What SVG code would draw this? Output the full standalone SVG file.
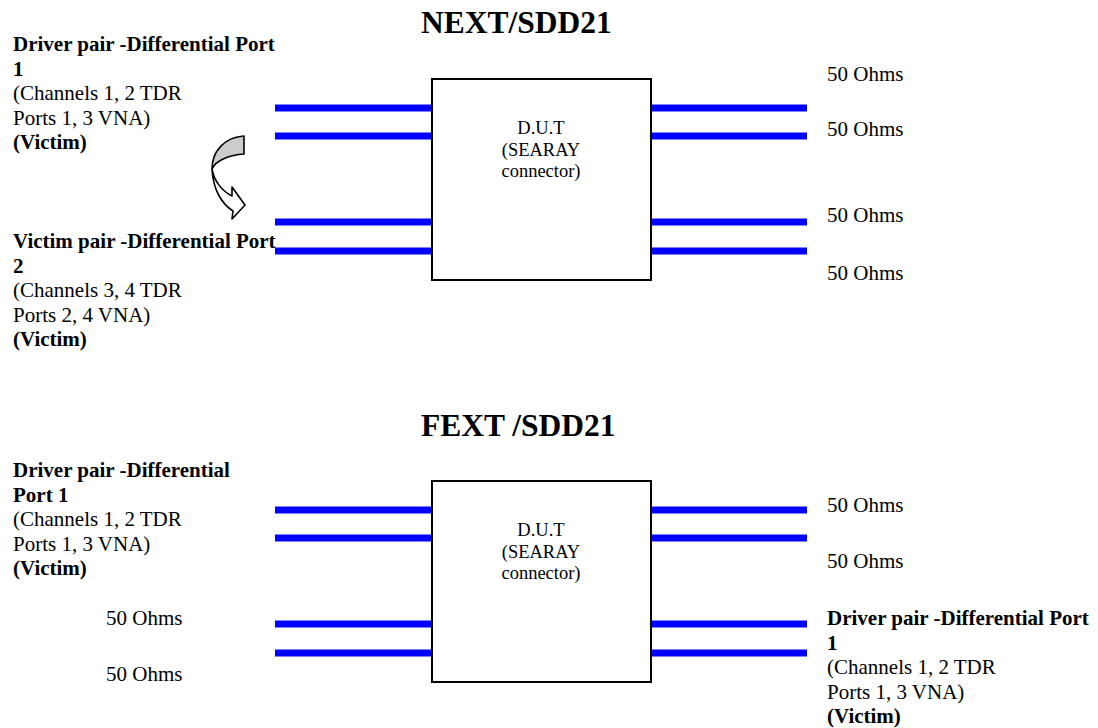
<svg xmlns="http://www.w3.org/2000/svg" width="1098" height="728" viewBox="0 0 1098 728">
<style>
.t{font-family:"Liberation Serif","Times New Roman",serif;font-size:21px;fill:#000}
.b{font-weight:bold}
.title{font-family:"Liberation Serif","Times New Roman",serif;font-size:31.5px;font-weight:bold;fill:#000}
.dut{font-family:"Liberation Serif","Times New Roman",serif;font-size:18.5px;fill:#000;text-anchor:middle}
.box{fill:#fff;stroke:#000;stroke-width:2}
.wire{stroke:#0000ff;stroke-width:7;fill:none}
</style>
<rect width="1098" height="728" fill="#fff"/>

<g id="title-next"><text class="title" x="421" y="33">NEXT/SDD21</text></g>
<g id="title-fext"><text class="title" x="421" y="436">FEXT /SDD21</text></g>

<g id="connectors">
  <line class="wire" x1="275" y1="108" x2="432" y2="108"/>
  <line class="wire" x1="275" y1="136" x2="432" y2="136"/>
  <line class="wire" x1="275" y1="222" x2="432" y2="222"/>
  <line class="wire" x1="275" y1="251" x2="432" y2="251"/>
  <line class="wire" x1="650" y1="108" x2="807" y2="108"/>
  <line class="wire" x1="650" y1="136" x2="807" y2="136"/>
  <line class="wire" x1="650" y1="222" x2="807" y2="222"/>
  <line class="wire" x1="650" y1="251" x2="807" y2="251"/>
  <line class="wire" x1="275" y1="510" x2="432" y2="510"/>
  <line class="wire" x1="275" y1="538" x2="432" y2="538"/>
  <line class="wire" x1="275" y1="624" x2="432" y2="624"/>
  <line class="wire" x1="275" y1="653" x2="432" y2="653"/>
  <line class="wire" x1="650" y1="510" x2="807" y2="510"/>
  <line class="wire" x1="650" y1="538" x2="807" y2="538"/>
  <line class="wire" x1="650" y1="624" x2="807" y2="624"/>
  <line class="wire" x1="650" y1="653" x2="807" y2="653"/>
</g>

<g id="dut-next">
  <rect class="box" x="432" y="79" width="219" height="201"/>
  <text class="dut" x="541" y="134">D.U.T</text>
  <text class="dut" x="541" y="155.5">(SEARAY</text>
  <text class="dut" x="541" y="177">connector)</text>
</g>
<g id="dut-fext">
  <rect class="box" x="432" y="481" width="219" height="201"/>
  <text class="dut" x="541" y="536">D.U.T</text>
  <text class="dut" x="541" y="557.5">(SEARAY</text>
  <text class="dut" x="541" y="579">connector)</text>
</g>

<g id="arrow">
  <path d="M244,136 L244,154 C230,155 216,160 212,169 C212,151 225,137 244,136 Z" fill="#cccccc" stroke="#000" stroke-width="1.6" stroke-linejoin="round"/>
  <path d="M212,169 C213,190 222,204 233,211 L232,219 L245,205 L232,187 L232,196 C222,191 214,181 212,169 Z" fill="#fff" stroke="#000" stroke-width="1.6" stroke-linejoin="round"/>
</g>

<g id="label-next-driver">
  <text class="t b" x="13" y="51">Driver pair -Differential Port</text>
  <text class="t b" x="13" y="75.5">1</text>
  <text class="t" x="13" y="100">(Channels 1, 2 TDR</text>
  <text class="t" x="13" y="124.5">Ports 1, 3 VNA)</text>
  <text class="t b" x="13" y="149">(Victim)</text>
</g>
<g id="label-next-victim">
  <text class="t b" x="13" y="248">Victim pair -Differential Port</text>
  <text class="t b" x="13" y="272.5">2</text>
  <text class="t" x="13" y="297">(Channels 3, 4 TDR</text>
  <text class="t" x="13" y="321.5">Ports 2, 4 VNA)</text>
  <text class="t b" x="13" y="346">(Victim)</text>
</g>
<g id="ohms-next">
  <text class="t" x="827" y="81">50 Ohms</text>
  <text class="t" x="827" y="136">50 Ohms</text>
  <text class="t" x="827" y="222">50 Ohms</text>
  <text class="t" x="827" y="280">50 Ohms</text>
</g>

<g id="label-fext-driver-left">
  <text class="t b" x="13" y="477">Driver pair -Differential</text>
  <text class="t b" x="13" y="501.5">Port 1</text>
  <text class="t" x="13" y="526">(Channels 1, 2 TDR</text>
  <text class="t" x="13" y="550.5">Ports 1, 3 VNA)</text>
  <text class="t b" x="13" y="575">(Victim)</text>
</g>
<g id="ohms-fext-left">
  <text class="t" x="106" y="625">50 Ohms</text>
  <text class="t" x="106" y="681">50 Ohms</text>
</g>
<g id="ohms-fext-right">
  <text class="t" x="827" y="512">50 Ohms</text>
  <text class="t" x="827" y="568">50 Ohms</text>
</g>
<g id="label-fext-driver-right">
  <text class="t b" x="827" y="625">Driver pair -Differential Port</text>
  <text class="t b" x="827" y="649.5">1</text>
  <text class="t" x="827" y="674">(Channels 1, 2 TDR</text>
  <text class="t" x="827" y="698.5">Ports 1, 3 VNA)</text>
  <text class="t b" x="827" y="723">(Victim)</text>
</g>
</svg>
